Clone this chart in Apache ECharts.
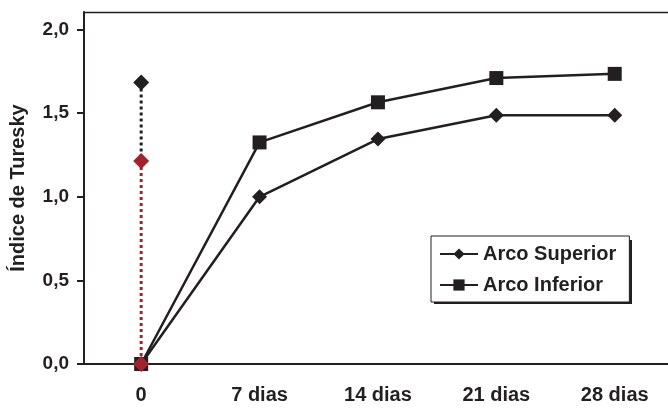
<!DOCTYPE html>
<html>
<head>
<meta charset="utf-8">
<script src="https://cdn.jsdelivr.net/npm/echarts@6/dist/echarts.min.js"></script>
<style>
html,body{margin:0;padding:0;background:#fff;}
#chart{width:668px;height:408px;}
</style>
</head>
<body>
<div id="chart"></div>
<script>
// Data
var dayValues = [0, 7, 14, 21, 28];
var xTickLabels = ['0', '7 dias', '14 dias', '21 dias', '28 dias'];
var yTickValues = [0, 0.5, 1.0, 1.5, 2.0];
var arcoSuperior = [0, 1.0, 1.345, 1.487, 1.488];
var arcoInferior = [0, 1.325, 1.565, 1.71, 1.735];
// Day-0 vertical dotted markers
var blackMarkerValues = [1.684, 1.214];
var redMarkerValues = [1.214, 0];

var ink = '#231f20';
var red = '#a3232b';
var font = 'Liberation Sans, Arial, sans-serif';

function pairs(xs, ys) { return ys.map(function (y, i) { return [xs[i], y]; }); }
function atDay0(ys) { return ys.map(function (y) { return [dayValues[0], y]; }); }

var chart = echarts.init(document.getElementById('chart'), null, {renderer: 'canvas'});
chart.setOption({
  animation: false,
  backgroundColor: '#fff',
  grid: {left: 83, top: 12, right: 0, bottom: 44, containLabel: false},
  graphic: [{
    type: 'rect', z: 0,
    shape: {x: 434, y: 240, width: 198, height: 64},
    style: {fill: ink}
  }],
  legend: {
    data: ['Arco Superior', 'Arco Inferior'],
    orient: 'vertical',
    left: 431, top: 236,
    padding: [8, 13, 7, 8],
    itemGap: 11,
    itemWidth: 38, itemHeight: 14,
    backgroundColor: '#fff',
    borderColor: ink, borderWidth: 1,
    z: 10,
    textStyle: {color: ink, fontSize: 20, fontWeight: 'bold', fontFamily: font}
  },
  xAxis: [{
    type: 'value', min: -3.38, max: 31.15,
    axisLine: {show: true, onZero: false, lineStyle: {color: ink, width: 2}},
    axisTick: {show: false},
    splitLine: {show: false},
    axisLabel: {
      customValues: dayValues,
      margin: 21,
      color: ink, fontSize: 20, fontWeight: 'bold', fontFamily: font,
      formatter: function (v) { var i = dayValues.indexOf(v); return i >= 0 ? xTickLabels[i] : ''; }
    }
  }, {
    type: 'value', min: -3.38, max: 31.15, position: 'top',
    axisLine: {show: true, onZero: false, lineStyle: {color: ink, width: 1.3}},
    axisTick: {show: false}, axisLabel: {show: false}, splitLine: {show: false}
  }],
  yAxis: {
    type: 'value', min: 0, max: 2.105,
    name: 'Índice de Turesky',
    nameLocation: 'middle', nameGap: 56,
    nameTextStyle: {color: ink, fontSize: 20, fontWeight: 'bold', fontFamily: font},
    axisLine: {show: true, onZero: false, lineStyle: {color: ink, width: 2}},
    axisTick: {show: true, length: 7, customValues: yTickValues, lineStyle: {color: ink, width: 2}},
    splitLine: {show: false},
    axisLabel: {
      customValues: yTickValues,
      margin: 15,
      color: ink, fontSize: 19, fontWeight: 'bold', fontFamily: font,
      formatter: function (v) { return v.toFixed(1).replace('.', ','); }
    }
  },
  series: [{
    name: 'Arco Superior', type: 'line',
    data: pairs(dayValues, arcoSuperior),
    symbol: 'diamond', symbolSize: 15,
    lineStyle: {color: ink, width: 2.5},
    itemStyle: {color: ink},
    z: 3
  }, {
    name: 'Arco Inferior', type: 'line',
    data: pairs(dayValues, arcoInferior),
    symbol: 'rect', symbolSize: 14,
    lineStyle: {color: ink, width: 2.5},
    itemStyle: {color: ink},
    z: 4
  }, {
    name: 'marker-black', type: 'line',
    data: atDay0(blackMarkerValues),
    symbol: 'diamond',
    symbolSize: function (v, p) { return p.dataIndex === 0 ? 16 : 0; },
    lineStyle: {color: ink, width: 3, type: [3, 3]},
    itemStyle: {color: ink},
    z: 5
  }, {
    name: 'marker-red', type: 'line',
    data: atDay0(redMarkerValues),
    symbol: 'diamond', symbolSize: 16,
    lineStyle: {color: red, width: 3, type: [3, 3]},
    itemStyle: {color: red},
    z: 6
  }]
});
</script>
</body>
</html>
